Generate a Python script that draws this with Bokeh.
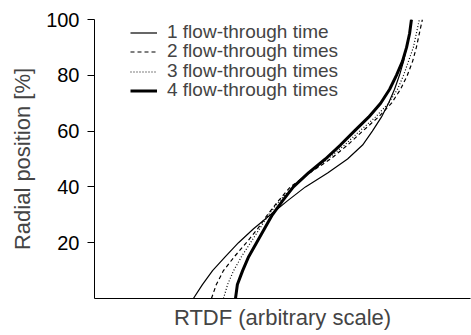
from bokeh.plotting import figure
from bokeh.models import Range1d, FixedTicker, Legend, LegendItem
from bokeh.embed import file_html
from bokeh.resources import INLINE

# Radial position [%]
radial = [0, 5, 10, 15, 20, 25, 30, 35, 40, 45, 50, 55, 60, 65, 70, 75, 80, 85, 90, 95, 100]
# RTDF values (arbitrary scale) for each series
rtdf_1 = [26.3, 28.7, 31.4, 34.8, 38.3, 42.3, 46.8, 51.3, 56.1, 62.0, 67.3, 71.3, 73.9, 76.3, 78.2,
          79.8, 81.1, 82.2, 83.0, 83.8, 84.3]
rtdf_2 = [31.1, 32.4, 34.3, 37.2, 40.4, 43.4, 46.0, 48.9, 52.1, 57.2, 62.8, 67.3, 71.3, 75.5, 79.0,
          81.4, 83.2, 84.6, 85.6, 86.4, 87.2]
rtdf_3 = [34.3, 35.4, 37.0, 39.1, 41.5, 43.9, 46.3, 49.2, 52.7, 57.2, 62.0, 66.5, 70.5, 74.7, 78.2,
          80.6, 82.2, 83.5, 84.8, 85.6, 86.4]
rtdf_4 = [37.5, 38.0, 39.4, 41.0, 43.1, 45.2, 47.3, 50.0, 52.9, 56.9, 61.4, 65.4, 69.1, 72.9, 76.1,
          78.5, 80.3, 81.9, 83.0, 83.8, 84.3]
labels = ["1 flow-through time", "2 flow-through times", "3 flow-through times", "4 flow-through times"]
y_ticks = [20, 40, 60, 80, 100]

FONT = "Liberation Sans"

p = figure(width=471, height=335, output_backend="svg", toolbar_location=None,
           x_range=Range1d(0, 100), y_range=Range1d(0, 100),
           min_border_left=94, min_border_right=1, min_border_top=19, min_border_bottom=37)
p.outline_line_color = None
p.grid.visible = False
p.background_fill_color = "white"

styles = [
    dict(line_width=1.2, line_dash="solid"),
    dict(line_width=1.2, line_dash="4 3"),
    dict(line_width=1.2, line_dash="1 2"),
    dict(line_width=3.0, line_dash="solid"),
]
# one legend per row so that the row pitch can be tight (19 px)
row_bottoms = [255, 236, 216, 197]
for xs, lab, st, yb in zip([rtdf_1, rtdf_2, rtdf_3, rtdf_4], labels, styles, row_bottoms):
    r = p.line(xs, radial, line_color="black", line_join="round", **st)
    leg = Legend(items=[LegendItem(label=lab, renderers=[r])], location=(36, yb),
                 border_line_color=None, background_fill_alpha=0,
                 padding=0, margin=0, spacing=0,
                 label_text_font=FONT, label_text_font_size="19px",
                 label_height=19, glyph_height=19, glyph_width=27, label_standoff=10)
    p.add_layout(leg)

# y axis
p.yaxis.ticker = FixedTicker(ticks=y_ticks)
p.yaxis.minor_tick_line_color = None
p.yaxis.major_tick_out = 7
p.yaxis.major_tick_in = 0
p.yaxis.major_label_standoff = 8
p.yaxis.major_label_text_font = FONT
p.yaxis.major_label_text_font_size = "20px"
p.yaxis.major_label_text_color = "black"
p.yaxis.axis_label = "Radial position [%]"
p.yaxis.axis_label_text_font = FONT
p.yaxis.axis_label_text_font_size = "22px"
p.yaxis.axis_label_text_font_style = "normal"
p.yaxis.axis_label_standoff = 8
p.yaxis.axis_line_color = "black"

# x axis
p.xaxis.ticker = FixedTicker(ticks=[])
p.xaxis.minor_tick_line_color = None
p.xaxis.major_tick_line_color = None
p.xaxis.axis_label = "RTDF (arbitrary scale)"
p.xaxis.axis_label_text_font = FONT
p.xaxis.axis_label_text_font_size = "22px"
p.xaxis.axis_label_text_font_style = "normal"
p.xaxis.axis_label_standoff = 6
p.xaxis.axis_line_color = "black"

open("out.html", "w").write(file_html(p, INLINE))
